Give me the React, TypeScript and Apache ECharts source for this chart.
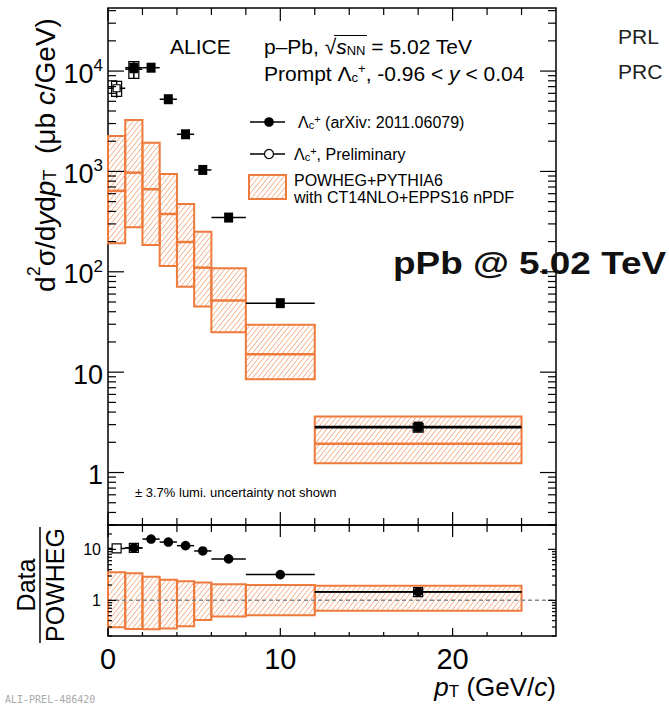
import React, { useEffect, useRef } from "react";
import * as echarts from "echarts";

const FONT = "'Liberation Sans', Arial, Helvetica, sans-serif";
const ORANGE = "#ee7a3c";
const HATCH = "#f09460";

// ---- axes ----
const xRange = [0, 26];
const xMajorTicks = [0, 10, 20];
const xMinorTicks = [2, 4, 6, 8, 12, 14, 16, 18, 22, 24];
const xTickLabels = ["0", "10", "20"];

const yTopRange = [0.3, 42500];
const yTopMajor = [1, 10, 100, 1000, 10000];
const yTopLabels = ["1", "10", "10^2", "10^3", "10^4"];
const yRatioRange = [0.2, 30];
const yRatioMajor = [1, 10];
const yRatioLabels = ["1", "10"];

// ---- POWHEG+PYTHIA6 prediction (pT bins) ----
const binLow = [0, 1, 2, 3, 4, 5, 6, 8, 12];
const binHigh = [1, 2, 3, 4, 5, 6, 8, 12, 24];
const powhegCentral = [640, 973, 665, 377, 198, 110, 51.7, 15.1, 1.93];
const powhegUpper = [2258, 3260, 1936, 944, 474, 250, 108.6, 29.6, 3.61];
const powhegLower = [193, 278, 185, 114.5, 70.8, 45, 25, 8.5, 1.24];
const ratioBandUpper = [3.54, 3.38, 2.9, 2.53, 2.36, 2.25, 2.06, 2.0, 1.93];
const ratioBandLower = [0.296, 0.274, 0.27, 0.28, 0.31, 0.41, 0.48, 0.51, 0.625];

// ---- ALICE data, arXiv:2011.06079 ----
const finalPt = [1.5, 2.5, 3.5, 4.5, 5.5, 7, 10, 18];
const finalLow = [1, 2, 3, 4, 5, 6, 8, 12];
const finalHigh = [2, 3, 4, 5, 6, 8, 12, 24];
const finalXsec = [10800, 10800, 5240, 2345, 1035, 347, 48.7, 2.87];
const finalRatio = [10.7, 15.9, 13.9, 11.8, 9.3, 6.5, 3.2, 1.47];

// ---- ALICE preliminary ----
const prelimPt = [0.5, 1.5, 18];
const prelimLow = [0, 1, 12];
const prelimHigh = [1, 2, 24];
const prelimXsec = [6740, 10440, 2.8];
const prelimStat = [0.2, 0.2, 0.1];
const prelimSyst = [0.17, 0.19, 0.1];
const prelimRatio = [10.4, 10.7, 1.45];

function hatchLines(x0: number, y0: number, x1: number, y1: number, out: any[]) {
  const k = 1.25;
  const dx = 5;
  const step = k * dx;
  const cMin = k * x0 + y0;
  const cMax = k * x1 + y1;
  for (let c = Math.ceil(cMin / step) * step; c <= cMax; c += step) {
    const xa = Math.max(x0, (c - y1) / k);
    const xb = Math.min(x1, (c - y0) / k);
    if (xb - xa > 0.3) {
      out.push({
        type: "line",
        shape: { x1: xa, y1: c - k * xa, x2: xb, y2: c - k * xb },
        style: { stroke: HATCH, lineWidth: 0.8 },
      });
    }
  }
}

function minorLogTicks(range: number[]) {
  const res: number[] = [];
  for (let d = 0.01; d <= range[1]; d *= 10) {
    for (let m = 2; m <= 9; m++) {
      const v = Math.round(m * d * 1000) / 1000;
      if (v >= range[0] && v <= range[1]) res.push(v);
    }
  }
  return res;
}

function labelText(t: string) {
  const parts = t.split("^");
  return parts.length > 1 ? `{b|${parts[0]}}{s|${parts[1]}}` : `{b|${t}}`;
}

function buildOption() {
  const topMinor = minorLogTicks(yTopRange);
  const ratioMinor = minorLogTicks(yRatioRange);

  const line = (x1: number, y1: number, x2: number, y2: number, w = 1.2, color = "#000", dash?: number[]) => ({
    type: "line",
    shape: { x1, y1, x2, y2 },
    style: { stroke: color, lineWidth: w, lineDash: dash },
  });

  const topTicks = (params: any, api: any) => {
    const cs = params.coordSys;
    const xl = cs.x, xr = cs.x + cs.width, yt = cs.y, yb = cs.y + cs.height;
    const ch: any[] = [];
    xMajorTicks.forEach((v) => {
      const x = api.coord([v, 1])[0];
      ch.push(line(x, yb, x, yb - 13), line(x, yt, x, yt + 13));
    });
    xMinorTicks.forEach((v) => {
      const x = api.coord([v, 1])[0];
      ch.push(line(x, yb, x, yb - 7), line(x, yt, x, yt + 7));
    });
    yTopMajor.forEach((v, i) => {
      const y = api.coord([1, v])[1];
      ch.push(line(xl, y, xl + 16, y), line(xr, y, xr - 16, y));
      ch.push({
        type: "text",
        x: xl - 5,
        y: y + 1,
        style: {
          text: labelText(yTopLabels[i]),
          align: "right",
          verticalAlign: "middle",
          fill: "#000",
          rich: {
            b: { fontSize: 27, fontFamily: FONT, lineHeight: 30, verticalAlign: "bottom" },
            s: { fontSize: 17, fontFamily: FONT, lineHeight: 17, verticalAlign: "top" },
          },
        },
      });
    });
    topMinor.forEach((v) => {
      if (yTopMajor.indexOf(v) >= 0) return;
      const y = api.coord([1, v])[1];
      ch.push(line(xl, y, xl + 8, y), line(xr, y, xr - 8, y));
    });
    return { type: "group", children: ch };
  };

  const ratioTicks = (params: any, api: any) => {
    const cs = params.coordSys;
    const xl = cs.x, xr = cs.x + cs.width, yt = cs.y, yb = cs.y + cs.height;
    const ch: any[] = [];
    xMajorTicks.forEach((v, i) => {
      const x = api.coord([v, 1])[0];
      ch.push(line(x, yb, x, yb - 8), line(x, yt, x, yt + 12));
      ch.push({
        type: "text",
        x,
        y: yb + 23,
        style: {
          text: `{t|${xTickLabels[i]}}`,
          align: "center",
          verticalAlign: "middle",
          fill: "#000",
          rich: { t: { fontSize: 29, fontFamily: FONT, lineHeight: 22 } },
        },
      });
    });
    xMinorTicks.forEach((v) => {
      const x = api.coord([v, 1])[0];
      ch.push(line(x, yb, x, yb - 4), line(x, yt, x, yt + 7));
    });
    yRatioMajor.forEach((v, i) => {
      const y = api.coord([1, v])[1];
      ch.push(line(xl, y, xl + 8, y), line(xr, y, xr - 8, y));
      ch.push({
        type: "text",
        x: xl - 7,
        y,
        style: {
          text: yRatioLabels[i],
          align: "right",
          verticalAlign: "middle",
          fill: "#000",
          font: `16px ${FONT}`,
        },
      });
    });
    ratioMinor.forEach((v) => {
      if (yRatioMajor.indexOf(v) >= 0) return;
      const y = api.coord([1, v])[1];
      ch.push(line(xl, y, xl + 4, y), line(xr, y, xr - 4, y));
    });
    return { type: "group", children: ch };
  };

  const unityLine = (params: any, api: any) => {
    const cs = params.coordSys;
    const y = api.coord([0, 1])[1];
    return line(cs.x, y, cs.x + cs.width, y, 1.5, "#888", [4, 3]);
  };

  const powhegBoxes = (params: any, api: any) => {
    const pA = api.coord([api.value(0), api.value(4)]);
    const pB = api.coord([api.value(1), api.value(2)]);
    const pc = api.coord([api.value(0), api.value(3)]);
    const ch: any[] = [];
    hatchLines(pA[0], pA[1], pB[0], pB[1], ch);
    ch.push({
      type: "rect",
      shape: { x: pA[0], y: pA[1], width: pB[0] - pA[0], height: pB[1] - pA[1] },
      style: { fill: "none", stroke: ORANGE, lineWidth: 2 },
    });
    ch.push(line(pA[0], pc[1], pB[0], pc[1], 2.5, ORANGE));
    return { type: "group", children: ch };
  };

  const ratioBoxes = (params: any, api: any) => {
    const pA = api.coord([api.value(0), api.value(3)]);
    const pB = api.coord([api.value(1), api.value(2)]);
    const ch: any[] = [];
    hatchLines(pA[0], pA[1], pB[0], pB[1], ch);
    ch.push({
      type: "rect",
      shape: { x: pA[0], y: pA[1], width: pB[0] - pA[0], height: pB[1] - pA[1] },
      style: { fill: "none", stroke: ORANGE, lineWidth: 2 },
    });
    return { type: "group", children: ch };
  };

  const finalTop = (params: any, api: any) => {
    const p = api.coord([api.value(0), api.value(3)]);
    const a = api.coord([api.value(1), api.value(3)]);
    const b = api.coord([api.value(2), api.value(3)]);
    return {
      type: "group",
      children: [
        line(a[0], p[1], b[0], p[1], 1.5),
        { type: "rect", shape: { x: p[0] - 4.5, y: p[1] - 5, width: 9, height: 10 }, style: { fill: "#000" } },
      ],
    };
  };

  const prelimTop = (params: any, api: any) => {
    const v = api.value(3);
    const p = api.coord([api.value(0), v]);
    const a = api.coord([api.value(1), v]);
    const b = api.coord([api.value(2), v]);
    const sHi = api.coord([api.value(0), v * (1 + api.value(4))]);
    const sLo = api.coord([api.value(0), v * (1 - api.value(4))]);
    const yHi = api.coord([api.value(0), v * (1 + api.value(5))]);
    const yLo = api.coord([api.value(0), v * (1 - api.value(5))]);
    return {
      type: "group",
      children: [
        line(a[0], p[1], b[0], p[1], 1.5),
        line(p[0], sHi[1], p[0], sLo[1], 1.5),
        {
          type: "rect",
          shape: { x: p[0] - 5, y: yHi[1], width: 10, height: yLo[1] - yHi[1] },
          style: { fill: "none", stroke: "#000", lineWidth: 1.2 },
        },
        {
          type: "rect",
          shape: { x: p[0] - 3.5, y: p[1] - 3.5, width: 7, height: 7 },
          style: { fill: "#fff", stroke: "#000", lineWidth: 1.2 },
        },
      ],
    };
  };

  const finalRatioItem = (params: any, api: any) => {
    const p = api.coord([api.value(0), api.value(3)]);
    const a = api.coord([api.value(1), api.value(3)]);
    const b = api.coord([api.value(2), api.value(3)]);
    return {
      type: "group",
      children: [
        line(a[0], p[1], b[0], p[1], 1.5),
        { type: "circle", shape: { cx: p[0], cy: p[1], r: 4.8 }, style: { fill: "#000" } },
      ],
    };
  };

  const prelimRatioItem = (params: any, api: any) => {
    const p = api.coord([api.value(0), api.value(3)]);
    const a = api.coord([api.value(1), api.value(3)]);
    const b = api.coord([api.value(2), api.value(3)]);
    return {
      type: "group",
      children: [
        line(a[0], p[1], b[0], p[1], 1.5),
        {
          type: "rect",
          shape: { x: p[0] - 4.5, y: p[1] - 4.5, width: 9, height: 9 },
          style: { fill: "#fff", stroke: "#000", lineWidth: 1.2 },
        },
      ],
    };
  };

  const base = { type: "custom", silent: true, clip: false, animation: false };

  // legend hatch box
  const legendHatch: any[] = [];
  hatchLines(249, 175, 286, 199, legendHatch);

  const txt = (x: number, y: number, text: string, rich: any, extra: any = {}) => ({
    type: "text",
    x,
    y,
    silent: true,
    style: { text, rich, fill: "#000", align: "left", verticalAlign: "middle", ...extra },
  });

  const r21 = {
    n: { fontSize: 21, fontFamily: FONT, lineHeight: 22, verticalAlign: "bottom" },
    i: { fontSize: 21, fontFamily: FONT, fontStyle: "italic", lineHeight: 22, verticalAlign: "bottom" },
    sub: { fontSize: 13, fontFamily: FONT, lineHeight: 10, verticalAlign: "bottom" },
    sup: { fontSize: 13, fontFamily: FONT, lineHeight: 12, verticalAlign: "top" },
  };
  const r16 = {
    n: { fontSize: 16, fontFamily: FONT, lineHeight: 17, verticalAlign: "bottom" },
    sub: { fontSize: 11, fontFamily: FONT, lineHeight: 8, verticalAlign: "bottom" },
    sup: { fontSize: 11, fontFamily: FONT, lineHeight: 10, verticalAlign: "top" },
  };
  const r28 = {
    n: { fontSize: 28, fontFamily: FONT, lineHeight: 34, verticalAlign: "bottom" },
    i: { fontSize: 28, fontFamily: FONT, fontStyle: "italic", lineHeight: 34, verticalAlign: "bottom" },
    sub: { fontSize: 18, fontFamily: FONT, lineHeight: 15, verticalAlign: "bottom" },
    sup: { fontSize: 18, fontFamily: FONT, lineHeight: 18, verticalAlign: "top" },
  };
  const r26 = {
    n: { fontSize: 26, fontFamily: FONT, lineHeight: 24, verticalAlign: "bottom" },
    i: { fontSize: 26, fontFamily: FONT, fontStyle: "italic", lineHeight: 24, verticalAlign: "bottom" },
    sub: { fontSize: 17, fontFamily: FONT, lineHeight: 9, verticalAlign: "bottom" },
  };

  return {
    animation: false,
    backgroundColor: "#fff",
    grid: [
      { left: 108, top: 8, width: 448, height: 517, show: true, borderColor: "#000", borderWidth: 1.5 },
      { left: 108, top: 525, width: 448, height: 111, show: true, borderColor: "#000", borderWidth: 1.5 },
    ],
    xAxis: [
      { type: "value", gridIndex: 0, min: xRange[0], max: xRange[1], show: false },
      { type: "value", gridIndex: 1, min: xRange[0], max: xRange[1], show: false },
    ],
    yAxis: [
      { type: "log", logBase: 10, gridIndex: 0, min: yTopRange[0], max: yTopRange[1], show: false },
      { type: "log", logBase: 10, gridIndex: 1, min: yRatioRange[0], max: yRatioRange[1], show: false },
    ],
    series: [
      {
        ...base,
        name: "POWHEG",
        xAxisIndex: 0,
        yAxisIndex: 0,
        z: 2,
        data: binLow.map((lo, i) => [lo, binHigh[i], powhegLower[i], powhegCentral[i], powhegUpper[i]]),
        encode: { x: [0, 1], y: [2, 3, 4] },
        renderItem: powhegBoxes,
      },
      {
        ...base,
        name: "prelim",
        xAxisIndex: 0,
        yAxisIndex: 0,
        z: 3,
        data: prelimPt.map((pt, i) => [pt, prelimLow[i], prelimHigh[i], prelimXsec[i], prelimStat[i], prelimSyst[i]]),
        encode: { x: 0, y: 3 },
        renderItem: prelimTop,
      },
      {
        ...base,
        name: "final",
        xAxisIndex: 0,
        yAxisIndex: 0,
        z: 4,
        data: finalPt.map((pt, i) => [pt, finalLow[i], finalHigh[i], finalXsec[i]]),
        encode: { x: 0, y: 3 },
        renderItem: finalTop,
      },
      {
        ...base,
        name: "ticksTop",
        xAxisIndex: 0,
        yAxisIndex: 0,
        z: 6,
        data: [[13, 100]],
        renderItem: topTicks,
      },
      {
        ...base,
        name: "ratioBand",
        xAxisIndex: 1,
        yAxisIndex: 1,
        z: 2,
        data: binLow.map((lo, i) => [lo, binHigh[i], ratioBandLower[i], ratioBandUpper[i]]),
        encode: { x: [0, 1], y: [2, 3] },
        renderItem: ratioBoxes,
      },
      {
        ...base,
        name: "unity",
        xAxisIndex: 1,
        yAxisIndex: 1,
        z: 3,
        data: [[13, 1]],
        renderItem: unityLine,
      },
      {
        ...base,
        name: "ratioPrelim",
        xAxisIndex: 1,
        yAxisIndex: 1,
        z: 4,
        data: prelimPt.map((pt, i) => [pt, prelimLow[i], prelimHigh[i], prelimRatio[i]]),
        encode: { x: 0, y: 3 },
        renderItem: prelimRatioItem,
      },
      {
        ...base,
        name: "ratioFinal",
        xAxisIndex: 1,
        yAxisIndex: 1,
        z: 5,
        data: finalPt.map((pt, i) => [pt, finalLow[i], finalHigh[i], finalRatio[i]]),
        encode: { x: 0, y: 3 },
        renderItem: finalRatioItem,
      },
      {
        ...base,
        name: "ticksRatio",
        xAxisIndex: 1,
        yAxisIndex: 1,
        z: 6,
        data: [[13, 1]],
        renderItem: ratioTicks,
      },
    ],
    graphic: [
      // axis titles
      {
        type: "text",
        x: 42,
        y: 155,
        rotation: Math.PI / 2,
        silent: true,
        style: {
          text: "{n|d}{sup|2}{n|σ/d}{i|y}{n|d}{i|p}{sub|T}{n|  (μb }{i|c}{n|/GeV)}",
          rich: r28,
          align: "center",
          verticalAlign: "middle",
          fill: "#000",
        },
      },
      {
        type: "text",
        x: 26,
        y: 585,
        rotation: Math.PI / 2,
        silent: true,
        style: { text: "Data", font: `25px ${FONT}`, align: "center", verticalAlign: "middle", fill: "#000" },
      },
      { type: "line", silent: true, shape: { x1: 40, y1: 527, x2: 40, y2: 643 }, style: { stroke: "#000", lineWidth: 1.5 } },
      {
        type: "text",
        x: 55,
        y: 585,
        rotation: Math.PI / 2,
        silent: true,
        style: { text: "POWHEG", font: `25px ${FONT}`, align: "center", verticalAlign: "middle", fill: "#000" },
      },
      txt(556, 688, "{i|p}{sub|T}{n| (GeV/}{i|c}{n|)}", r26, { align: "right" }),
      // headers
      txt(170, 46, "{n|ALICE}", r21),
      txt(264, 46, "{n|p–Pb, √}{i|s}{sub|NN}{n| = 5.02 TeV}", r21),
      { type: "line", silent: true, shape: { x1: 334, y1: 35.5, x2: 367, y2: 35.5 }, style: { stroke: "#000", lineWidth: 1.2 } },
      txt(264, 73, "{n|Prompt Λ}{sub|c}{sup|+}{n|, -0.96 < }{i|y}{n| < 0.04}", r21),
      // legend
      { type: "line", silent: true, shape: { x1: 250, y1: 122, x2: 285, y2: 122 }, style: { stroke: "#000", lineWidth: 1.5 } },
      { type: "circle", silent: true, shape: { cx: 269, cy: 122, r: 4.8 }, style: { fill: "#000" } },
      txt(298, 122, "{n|Λ}{sub|c}{sup|+}{n| (arXiv: 2011.06079)}", r16),
      { type: "line", silent: true, shape: { x1: 250, y1: 154, x2: 285, y2: 154 }, style: { stroke: "#000", lineWidth: 1.5 } },
      { type: "circle", silent: true, shape: { cx: 269, cy: 154, r: 4.5 }, style: { fill: "#fff", stroke: "#000", lineWidth: 1.2 } },
      txt(294, 154, "{n|Λ}{sub|c}{sup|+}{n|, Preliminary}", r16),
      ...legendHatch.map((e) => ({ ...e, silent: true })),
      {
        type: "rect",
        silent: true,
        shape: { x: 249, y: 175, width: 37, height: 24 },
        style: { fill: "none", stroke: ORANGE, lineWidth: 2 },
      },
      txt(294, 180, "{n|POWHEG+PYTHIA6}", r16),
      txt(294, 197, "{n|with CT14NLO+EPPS16 nPDF}", r16),
      // notes
      txt(135, 492, "{n|± 3.7% lumi. uncertainty not shown}", {
        n: { fontSize: 13, fontFamily: FONT, lineHeight: 16 },
      }),
      {
        type: "text",
        x: 393,
        y: 263,
        scaleX: 1.19,
        silent: true,
        style: {
          text: "pPb @ 5.02 TeV",
          font: `bold 31px ${FONT}`,
          align: "left",
          verticalAlign: "middle",
          fill: "#111",
        },
      },
      {
        type: "text",
        x: 618,
        y: 36,
        silent: true,
        style: { text: "PRL", font: `21px ${FONT}`, align: "left", verticalAlign: "middle", fill: "#222" },
      },
      {
        type: "text",
        x: 618,
        y: 71,
        silent: true,
        style: { text: "PRC", font: `21px ${FONT}`, align: "left", verticalAlign: "middle", fill: "#222" },
      },
      {
        type: "text",
        x: 5,
        y: 694,
        silent: true,
        style: {
          text: "ALI-PREL-486420",
          font: `10px 'DejaVu Sans Mono', monospace`,
          align: "left",
          verticalAlign: "top",
          fill: "#aaa",
        },
      },
    ],
  };
}

export default function App() {
  const ref = useRef<HTMLDivElement>(null);
  useEffect(() => {
    const chart = echarts.init(ref.current!, null, { renderer: "svg" });
    chart.setOption(buildOption() as any);
    return () => chart.dispose();
  }, []);
  return (
    <div
      ref={ref}
      style={{ position: "absolute", left: 0, top: 0, width: 669, height: 704, background: "#fff" }}
    />
  );
}
